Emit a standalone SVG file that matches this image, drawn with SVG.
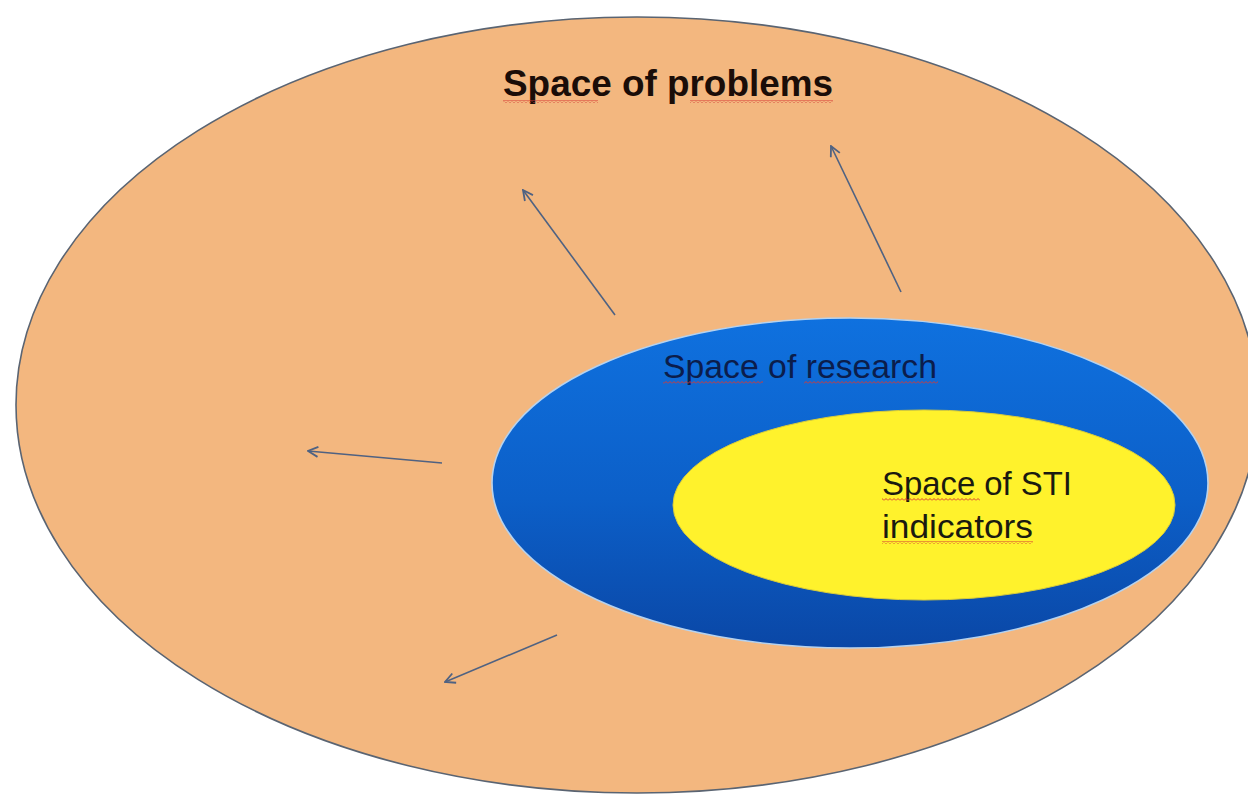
<svg xmlns="http://www.w3.org/2000/svg" width="1248" height="795" viewBox="0 0 1248 795">
<style>
.lbl{font-family:"Liberation Sans","Open Sans",Arial,sans-serif;}
.arrow{stroke:#4f6282;stroke-width:1.6;fill:none;}
</style>
<defs>
<linearGradient id="blueGrad" x1="0" y1="0" x2="0" y2="1">
<stop offset="0" stop-color="#0f71df"/>
<stop offset="0.55" stop-color="#0c5fc8"/>
<stop offset="1" stop-color="#0a47a6"/>
</linearGradient>
<marker id="head" viewBox="0 0 12 12" refX="11" refY="6" markerWidth="12" markerHeight="12" markerUnits="userSpaceOnUse" orient="auto">
<path d="M1,1 L11,6 L1,11" fill="none" stroke="#4f6282" stroke-width="1.8"/>
</marker>
<pattern id="squig" width="4" height="3" patternUnits="userSpaceOnUse">
<path d="M0,2.5 L2,0.5 L4,2.5" fill="none" stroke="#d63a33" stroke-width="1"/>
</pattern>
</defs>
<rect width="1248" height="795" fill="#ffffff"/>
<g id="space-of-problems">
<ellipse cx="637" cy="405" rx="621" ry="388" fill="#f3b77f" stroke="#5a6472" stroke-width="1.6"/>
<text class="lbl" x="503" y="96" font-size="37" font-weight="bold" fill="#1a0d08" textLength="330" lengthAdjust="spacingAndGlyphs">Space of problems</text>
<rect x="503" y="100" width="95" height="3" fill="url(#squig)"/>
<rect x="690" y="100" width="143" height="3" fill="url(#squig)"/>
</g>
<g id="connectors">
<line class="arrow" x1="615" y1="315" x2="523" y2="190" marker-end="url(#head)"/>
<line class="arrow" x1="901" y1="292" x2="831" y2="146" marker-end="url(#head)"/>
<line class="arrow" x1="442" y1="463" x2="308" y2="451" marker-end="url(#head)"/>
<line class="arrow" x1="557" y1="635" x2="445" y2="682" marker-end="url(#head)"/>
</g>
<g id="space-of-research">
<ellipse cx="850" cy="483" rx="358" ry="165" fill="url(#blueGrad)" stroke="#b6d2ee" stroke-width="1.6"/>
<text class="lbl" x="663" y="378" font-size="34" fill="#0b1d4c" textLength="274" lengthAdjust="spacingAndGlyphs">Space of research</text>
<rect x="663" y="381" width="100" height="3" fill="url(#squig)"/>
<rect x="804" y="381" width="134" height="3" fill="url(#squig)"/>
</g>
<g id="space-of-sti-indicators">
<ellipse cx="924" cy="505" rx="251" ry="95" fill="#fff22c" stroke="#d8cc3a" stroke-width="1"/>
<text class="lbl" x="882" y="495" font-size="34" fill="#1a1a10" textLength="190" lengthAdjust="spacingAndGlyphs">Space of STI</text>
<text class="lbl" x="882" y="538" font-size="34" fill="#1a1a10" textLength="151" lengthAdjust="spacingAndGlyphs">indicators</text>
<rect x="882" y="498" width="98" height="3" fill="url(#squig)"/>
<rect x="882" y="541" width="151" height="3" fill="url(#squig)"/>
</g>
</svg>
